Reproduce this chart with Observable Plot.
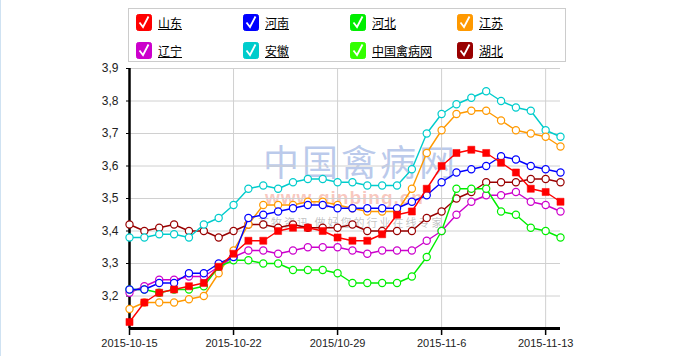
<!DOCTYPE html>
<html><head><meta charset="utf-8">
<script src="https://cdn.jsdelivr.net/npm/d3@7"></script>
<script src="https://cdn.jsdelivr.net/npm/@observablehq/plot@0.6"></script>
<style>
body{margin:0;background:#fff;font-family:"Liberation Sans",Arial,sans-serif;}
#wrap{position:relative;width:683px;height:356px;overflow:hidden;}
#edge{position:absolute;left:0;top:0;width:1px;height:356px;background:#cfe2f2;}
#legend{position:absolute;left:128px;top:8px;width:436px;height:52px;border:1px solid #cccccc;background:#fff;}
.item{position:absolute;height:18px;font-size:12px;color:#000;white-space:nowrap;}
.item svg{position:absolute;left:0;top:0;}
.item span{position:absolute;left:22px;top:2px;text-decoration:underline;font-family:"Noto Sans CJK SC",sans-serif;line-height:14px;}
.wm{position:absolute;white-space:nowrap;pointer-events:none;line-height:1;}
#chart{position:absolute;left:0;top:0;}
</style></head><body><div id="wrap"><div id="edge"></div></div>
<script>
// ---- data ----
const seriesNames = ["山东","河南","河北","江苏","辽宁","安徽","中国禽病网","湖北"];
const seriesColors = ["#ff0000","#0000ff","#00ee00","#ff9900","#cc00cc","#00cccc","#33ff00","#990000"];
const shandong = [3.12,3.18,3.21,3.22,3.23,3.24,3.29,3.33,3.37,3.37,3.40,3.41,3.41,3.40,3.38,3.37,3.37,3.39,3.45,3.46,3.53,3.60,3.64,3.65,3.64,3.61,3.58,3.53,3.52,3.49];
const henan    = [3.22,3.22,3.24,3.24,3.27,3.27,3.30,3.32,3.44,3.45,3.46,3.47,3.48,3.48,3.47,3.47,3.47,3.47,3.47,3.49,3.51,3.55,3.58,3.59,3.60,3.63,3.62,3.60,3.59,3.58];
const hebei    = [3.22,3.22,3.21,3.22,3.22,3.23,3.29,3.31,3.31,3.30,3.30,3.28,3.28,3.28,3.27,3.24,3.24,3.24,3.24,3.26,3.32,3.40,3.53,3.53,3.53,3.46,3.45,3.41,3.40,3.38];
const jiangsu  = [3.16,3.18,3.18,3.18,3.19,3.20,3.27,3.34,3.42,3.48,3.48,3.48,3.49,3.49,3.48,3.47,3.46,3.46,3.46,3.53,3.64,3.71,3.76,3.77,3.77,3.74,3.71,3.70,3.69,3.66];
const liaoning = [3.21,3.23,3.25,3.25,3.26,3.26,3.29,3.32,3.34,3.34,3.33,3.34,3.35,3.35,3.35,3.34,3.33,3.34,3.34,3.34,3.37,3.40,3.45,3.49,3.51,3.51,3.52,3.49,3.48,3.46];
const anhui    = [3.38,3.38,3.39,3.39,3.38,3.42,3.44,3.48,3.53,3.54,3.53,3.55,3.56,3.56,3.55,3.55,3.54,3.54,3.54,3.59,3.70,3.76,3.79,3.81,3.83,3.80,3.78,3.77,3.71,3.69];
const qinbing  = [];
const hubei    = [3.42,3.40,3.41,3.42,3.40,3.40,3.38,3.40,3.42,3.42,3.41,3.42,3.41,3.41,3.41,3.42,3.40,3.40,3.40,3.40,3.44,3.46,3.50,3.52,3.55,3.55,3.55,3.56,3.56,3.55];
const seriesValues = [shandong,henan,hebei,jiangsu,liaoning,anhui,qinbing,hubei];
const tickIndex = [0,7,14,21,28];
const tickLabels = ["2015-10-15","2015-10-22","2015/10-29","2015-11-6","2015-11-13"];
const yTicks = [3.2,3.3,3.4,3.5,3.6,3.7,3.8,3.9];

const wrap = document.getElementById("wrap");

// watermark (faint, behind chart)
const wms = [
  {t:"中国禽病网", l:263, tp:142, s:36, c:"rgba(120,150,215,0.5)", w:"normal", f:"Noto Sans CJK SC", ls:3},
  {t:"www.qinbing.cn", l:265, tp:188, s:19, c:"rgba(240,130,110,0.45)", w:"bold", f:"Liberation Sans", ls:1},
  {t:"畜牧资讯  做好您的行业在线专家", l:258, tp:217, s:11, c:"rgba(120,120,120,0.45)", w:"normal", f:"Noto Sans CJK SC", ls:2}
];
for (const m of wms) {
  const d = document.createElement("div");
  d.className = "wm";
  d.textContent = m.t;
  d.style.cssText = `left:${m.l}px;top:${m.tp}px;font-size:${m.s}px;color:${m.c};font-weight:${m.w};font-family:"${m.f}",sans-serif;letter-spacing:${m.ls}px;`;
  wrap.appendChild(d);
}

const marks = [
  Plot.ruleY(yTicks, {stroke:"#d0d0d0", strokeWidth:1}),
  Plot.ruleX(tickIndex, {stroke:"#d0d0d0", strokeWidth:1}),
  Plot.axisY({ticks: yTicks, tickFormat: d => d.toFixed(1).replace(".", ","), tickSize: 3, tickPadding: 8, fontSize: 12, fill:"#222", label: null}),
  Plot.axisX({ticks: tickIndex, tickFormat: i => tickLabels[tickIndex.indexOf(i)], tickSize: 7, tickPadding: 4, fontSize: 11, fill:"#222", label: null, stroke:"#000", strokeWidth:1.5}),
  Plot.ruleX([0], {stroke:"#000", strokeWidth:2.5}),
  Plot.ruleY([3.1], {stroke:"#000", strokeWidth:3})
];
const order = [7,5,3,4,2,1,0];
for (const k of order) {
  const vals = seriesValues[k];
  if (!vals.length) continue;
  const data = vals.map((v, i) => ({i, v}));
  marks.push(Plot.line(data, {x:"i", y:"v", stroke: seriesColors[k], strokeWidth: 1.4}));
  if (k === 0) {
    marks.push(Plot.dot(data, {x:"i", y:"v", symbol:"square", r: 4, fill: seriesColors[k], stroke: seriesColors[k], strokeWidth: 0.5}));
  } else {
    marks.push(Plot.dot(data, {x:"i", y:"v", r: 3.6, fill: "#fff", stroke: seriesColors[k], strokeWidth: 1.2}));
  }
}

const chart = Plot.plot({
  width: 683, height: 356,
  marginLeft: 129, marginRight: 123, marginTop: 68, marginBottom: 28,
  x: {domain: [0, 29], axis: null},
  y: {domain: [3.1, 3.9], axis: null},
  style: {background: "transparent", fontFamily: "Liberation Sans, Arial, sans-serif"},
  marks
});
chart.id = "chart";
wrap.appendChild(chart);

// legend
const legend = document.createElement("div");
legend.id = "legend";
const colX = [7, 114, 221, 328];
const rowY = [5, 33];
seriesNames.forEach((name, k) => {
  const it = document.createElement("div");
  it.className = "item";
  it.style.left = colX[k % 4] + "px";
  it.style.top = rowY[Math.floor(k / 4)] + "px";
  it.innerHTML = `<svg width="16" height="17"><rect x="0.5" y="0.5" width="15" height="16" rx="2" fill="${seriesColors[k]}" stroke="${seriesColors[k]}"/><path d="M3.5 8.5 L7 13 L12.5 2.5" fill="none" stroke="#fff" stroke-width="1.8"/></svg><span>${name}</span>`;
  legend.appendChild(it);
});
wrap.appendChild(legend);
</script></body></html>
